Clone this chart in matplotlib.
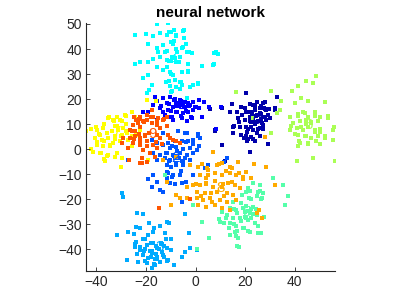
import matplotlib
matplotlib.use("Agg")
import matplotlib.pyplot as plt
import numpy as np

plt.rcParams['font.family'] = ['Liberation Sans', 'DejaVu Sans']

digits = ['0', '1', '2', '3', '4', '5', '6', '7', '8', '9']

# digit 0 (navy)
pts_0 = [(20.5,22.4),(24.6,19),(27.2,18.4),(27.9,19),(23.2,17.7),(25.9,16.4),(28.6,15.7),(32,15.7),
         (32.8,20.7),(19.9,16.4),(21.2,15),(23.9,15.7),(18.9,13.7),(21.9,13),(24.6,13.7),(27.2,13),
         (29.3,13.7),(17.2,12.4),(19.9,11.7),(22.5,11),(25.2,11.3),(26.6,10.4),(28.6,11.7),(15.2,9),
         (17.9,8.7),(20.5,9),(23.2,7.7),(25.9,8.4),(15.2,6.4),(18.5,5.7),(20.8,6.8),(22.5,4.7),
         (24.6,6.4),(20.9,3.1),(23.9,3.1),(21.9,-0.9),(19.6,4.4),(7.8,7.1),(10.5,16.4),(6,16.1),
         (10.5,1.5),(13.8,15),(16.8,15),(27.5,16.4),(29.9,12.4),(27.2,9.7),(26,14.5),(22.8,14.2),
         (24,10),(26.5,12.2),(21.8,18),(23.8,17.3),(26.5,17.3),(27.8,16),(29.8,16),(31.9,16.3),
         (22.4,14.7),(24.4,13.3),(26.5,14),(27.8,12.7),(21.8,11.4),(23.8,10.7),(25.8,11.4),
         (22.4,8.7),(25.1,8),(27.1,8),(21.1,4),(23.1,4),(25.8,5.4),(29.2,2),(14.9,18),(18.3,16.7),
         (20.3,14.7),(15.6,9.4),(17.6,10.7),(21,8),(20.3,5.4),(21,4),(11.9,-4.6),(7.9,7.8)]
# digit 1 (blue)
pts_1 = [(-16.4,21),(-13,20.4),(-10.3,21),(-8.3,20.1),(-6.3,19.7),(-3.6,20.4),(-1.2,19),(1.5,19.7),
         (3.4,19),(-15.7,19.1),(-11.7,18.4),(-9,17),(-5.6,17.7),(-4.3,16.7),(-2.3,17.7),(-0.3,17),
         (1.5,16.4),(-14.4,16.4),(-13,15),(-11,15.7),(-7.7,15),(-4.9,14.4),(-2.9,15),(-0.9,15.7),
         (-19,15),(-17,17.5),(-10.3,13),(-9,11.7),(-5.6,12.4),(-3.6,11.3),(-1.6,12.4),(-6.3,19),
         (-5.2,18.8),(-4.3,19),(-7.7,18.4),(-12.3,13.7),(-21,15),(-15.7,11.7),(-14,17.2),(-6.8,17.2),
         (-3.2,18.5),(-8.5,19.5),(-10.6,18),(-7.9,17.3),(-5.2,18),(-2.6,17.3),(0.1,16.7),(-10,15.3),
         (-7.3,14.7),(-3.9,15.3),(-9.3,12.7),(-5.9,13.3),(-1.9,12.7),(2.8,12.7),(5.5,16.7),(8.2,8),
         (10.2,16.7)]
# digit 2 (medium blue)
pts_2 = [(-7,7.1),(-4.3,6.4),(1.1,6.1),(1.7,4.4),(-0.9,3.7),(-2.9,3.1),(-5.6,3.3),(-8.3,3.1),
         (-11,2.4),(-13,1.7),(-15.7,2.4),(-10.3,0.4),(-7.7,0.7),(-5,0.1),(-2.3,0.4),(0.4,-0.3),
         (-0.9,-1.6),(-3.6,-2.3),(-6.3,-1.6),(-9,-2.3),(-11.7,-1.6),(-14.4,-2.3),(-17,-1.6),
         (-15.7,-4.3),(-12.3,-3.6),(-10.3,-4.3),(-8.3,-3.6),(-7.4,-2.5),(-5.6,-4.7),(-4.3,-3.3),
         (-2.3,-4.3),(-11.7,-6.3),(-9.7,-6.9),(-7.7,-6.3),(-5,-6.3),(-11,-9.6),(-9,-10.3),
         (-6.3,-10.3),(-17.3,-10.3),(-19,-11.9),(-15.7,-12.9),(-11.7,-11.6),(-10.3,-13.6),
         (-8.3,-14),(-5.6,-13.6),(-14.4,-16.3),(-13,-16.9),(-17.7,-14.9),(-5.6,-20.9),(12.5,-3.6),
         (11.4,-4.9),(-3.6,6.4),(-13.3,6.4),(-27.1,-4.3),(-17.7,3.7),(5.1,-6.3),(3.8,-7.6),
         (-9.3,1.4),(-7.3,-0.7),(-8.6,-2.7),(-6.6,-3.4),(-10.6,-4.7),(-7.9,-5.3),(-5.2,-4.7),
         (-3.9,2.7),(-1.2,2),(0.8,5.4),(1.5,1.4),(-11.3,-9.2),(-9.3,-11.2),(-5.9,-8.6),(-1.2,-10.3),
         (-3.9,-13.2),(-12,-1.3)]
# digit 3 (sky blue)
pts_3 = [(-23.5,-25.3),(-21,-25.7),(-29.8,-17.3),(-29.1,-18.9),(-31.5,-34.3),(-27.1,-33.2),
         (-24,-30.9),(-22.4,-31.6),(-18.7,-29.3),(-16.8,-31.6),(-14.4,-30.5),(-12.3,-33.3),
         (-10.6,-29.6),(-9.7,-35.9),(-19.1,-34.3),(-21,-35.9),(-23.8,-36.9),(-24.4,-38.9),
         (-22.4,-40.3),(-19.7,-38.3),(-17,-37.6),(-15.7,-39.6),(-13.7,-38),(-11.7,-39.6),
         (-9.7,-40.3),(-21,-42.3),(-19,-43.6),(-17.7,-41.6),(-15.7,-42.9),(-13,-42.3),(-11,-44.3),
         (-14.4,-44.9),(-16.4,-46.3),(-17.7,-47.6),(-19.7,-45.6),(-23,-44.9),(-27.8,-44.3),
         (-26.1,-49.6),(-8.7,-46.3),(-5.6,-42.9),(-4.3,-40.9),(-2.3,-39.6),(-2.6,-33.6),(0.4,-40.3),
         (-4.3,-26),(-11.7,-28.9),(-17,-33),(-18.2,-40.5),(-16.5,-44),(-20.5,-40),
         (-18.1,-37.3),(-16.1,-38.6),(-14.1,-37.3),(-12.8,-38.6),(-14.8,-39.9),(-17.5,-40.6),
         (-16.1,-41.9),(-13.5,-41.2),(-18.1,-43.2),(-15.5,-43.9),(-12.8,-43.2),(-20.8,-40.6),
         (-23.5,-41.9),(-24.2,-37.9),(-22.2,-39.2),(-20.2,-44.6),(-11.5,-44.6),(-16.9,-45.9),
         (-24.9,-33.9),(-20.2,-35.9),(-12.1,-35.9)]
# digit 4 (cyan)
pts_4 = [(-15.7,50),(-11,50.3),(-24.2,45.6),(-20,45.9),(-17,45.3),(-14.4,46.4),(-11.7,45.7),
         (-9.7,47),(-7.7,45.7),(-5,47.3),(-4.6,44.4),(-19,42),(-15.7,40.4),(-13,41.7),(-9.7,42.8),
         (-9,42),(-7.9,40),(-5.6,40.4),(-3.6,39),(-1.6,38.4),(-15,39),(-12.3,39),(7.4,38.4),
         (9.1,38.1),(7.1,33.7),(-24.4,34),(-22.4,34.8),(-19,35),(-17,36.1),(-14.4,36.7),
         (-11.7,35.7),(-9.7,35.3),(-8.3,36.4),(-7.7,34.7),(-6.3,37),(-15.7,33),(-13,31.7),
         (-11.7,33),(-10.3,31),(-5.6,30.7),(-2.9,31),(-21,28.4),(-19,29.5),(-9,29.5),(-8.3,27.7),
         (-6.3,27),(-12,27),(-10.3,25.3),(-5.6,25.7),(-0.9,25.7),(1.1,26),(-19.7,22.4),(-10,23),
         (-6.3,24),(-2.3,24.7),(-18.7,23.6),(-17.6,25.7),(-3.4,20.4),(-8.6,47.6),(-4.6,47.6),
         (-10.6,46.7),(-7.9,45.3),(-9.9,42.7),(-8.6,43.3),(-5.2,40.7),(-3.9,42),(-11.3,39.4),
         (-7.3,38.7),(-2.6,38.7),(-9.3,36.7),(-6.6,34.7),(-10.6,35.4),(-3.2,34.1),(2.8,33.4),
         (7.5,34.1),(8.2,38.7),(-10,30.1),(-3.2,31.4),(-5.9,26.7),(0.8,26.3),(-10.6,27.4),
         (-7.9,24.7),(-9.3,23.4)]
# digit 5 (spring green)
pts_5 = [(21.2,-15.6),(23.2,-13.6),(25.2,-16.9),(27.2,-17.6),(18.9,-18.3),(21.6,-19.6),
         (24.6,-18.6),(26.6,-19.6),(15.2,-20.9),(18.5,-21.3),(20.5,-22.5),(23.2,-22.9),
         (13.8,-23.6),(16.5,-24.3),(19.9,-24.9),(21.9,-25.6),(24.6,-26.3),(27.5,-26.9),
         (10.5,-24.9),(12.5,-26.3),(15.2,-27.3),(17.9,-27.6),(21.2,-28.3),(23.9,-29.6),
         (9.8,-28.9),(13.8,-29.6),(16.5,-30.5),(19.1,-31.6),(21.9,-32.9),(25.2,-33.6),
         (15.8,-32.9),(17.2,-35.6),(17.4,-38.9),(13.8,-34.3),(2.7,-28.9),(5.5,-35.3),(-0.9,-22.3),
         (36,-22.3),(35.4,-14.3),(37.3,-18.5),(31.3,-11.6),(-12.3,-10.3),(0.4,-39.9),(25.9,-14.3),
         (20.5,-16.9),(22.5,-24),(20,-27),(15.6,-24),(16.9,-25.3),(19,-23.3),(21,-24.7),
         (20.3,-27.3),(18.3,-28.6),(15.6,-30),(12.2,-27.3),(13.5,-31.3),(16.9,-32.6),(19.6,-31.3),
         (11.5,-29.3),(9.5,-28),(16.2,-34.6),(16.9,-38.6),(21.8,-16.7),(25.8,-16.7),(22.4,-20),
         (26.5,-20),(21.8,-24.7),(23.1,-26),(24.4,-24),(22.4,-27.3),(25.3,-30.6),(21.1,-32.6),
         (26.2,-33.3)]
# digit 6 (yellow-green)
pts_6 = [(16.5,22.8),(30.6,23.3),(38.7,23.1),(44.7,27.3),(48.5,29.1),(47.4,26.4),(41.3,25.1),
         (42.7,20.4),(45.4,19.1),(52.3,18.7),(40.1,18.4),(34,15.7),(32.8,14.4),(38,13),(41.3,14),
         (44,14.4),(48.1,15),(50.1,13),(53.4,12.4),(39.4,10.4),(42,11.1),(44.7,11.7),(46.7,10.4),
         (49.4,11.1),(38,7.7),(40.7,8.4),(43.4,7.7),(45.4,8.7),(48.1,7.7),(50.1,6.8),(55.4,7.7),
         (41.3,5.7),(44,5.1),(46.7,4.4),(49.4,5.1),(52.1,4.4),(42,2.4),(45.4,2.4),(48.7,3.1),
         (55.4,3.7),(40.7,-4.7),(47.4,-3.6),(56.1,-4.7),(34.6,19.1),(30.6,6.4),(23.2,12.4),
         (41.3,13.3),(43.3,14.7),(45.3,12.7),(46.6,10.7),(44.6,10),(42.6,8.7),(38.5,9.4),(39.9,6),
         (44.6,5.4),(48,6.7),(50,8),(52,5.4),(41.9,3.4),(45.3,2),(50,2),(41.3,1.4),(48,13.3),
         (53.3,13.3),(56,8.7)]
# digit 7 (yellow)
pts_7 = [(-44.2,7.1),(-39.9,7.7),(-37.2,8.4),(-35.2,12.4),(-33.2,11.7),(-31.8,13),(-30.5,11.7),
         (-28.5,13.7),(-25.8,15),(-24.4,13),(-38.5,5.7),(-35.8,6.4),(-33.8,7.1),(-32.5,9.1),
         (-31.1,7.7),(-29.1,8.4),(-27.8,6.4),(-29.8,5.7),(-32.5,5.1),(-35.2,4.4),(-37.9,3.7),
         (-40.6,4.4),(-39.9,1.7),(-37.2,1.1),(-34.5,1.7),(-41.2,-0.9),(-38.5,-1.6),(-35.2,-2.3),
         (-32.5,-2.9),(-29.8,-3.6),(-36.5,-4.7),(-30.2,-6.9),(-27.1,3.7),(-25.8,5.1),(-30.5,3.1),
         (-33.2,2.4),(-25.8,1.1),(-23.8,5.7),(-22.4,7.7),(-19,-4.3),(-16,19.1),(-19.7,19.7),
         (-28.1,10),(-42.3,8),(-40.3,8.7),(-39,6),(-37,10),(-35,12.7),(-32.9,11.4),(-31.6,9.4),
         (-29.6,11.4),(-28.2,13.3),(-39.7,2.7),(-37,3.4),(-34.3,1.4),(-32.3,4),(-30.2,5.4),
         (-28.2,7.4),(-42.3,0),(-38.3,-1.3),(-35.6,-2.6),(-31.6,-1.3),(-37,-3.9)]
# digit 8 (orange)
pts_8 = [(-2.3,-6.3),(1.1,-6.9),(5.1,-8.3),(8.5,-6.3),(10.5,-5.6),(13.8,-6.9),(17.2,-4.9),
         (20.5,-8.9),(23.5,-5.9),(28.6,-6.9),(1.7,-10.3),(5.1,-10.3),(7.8,-9.6),(10.5,-10.3),
         (13.8,-9.6),(16.5,-10.3),(19.1,-10.9),(22.5,-11.6),(-0.9,-14.3),(1.7,-14.3),(4.4,-13.6),
         (7.1,-14.9),(10.5,-14.9),(13.2,-13.6),(15.8,-14.3),(17.8,-15.6),(-3.6,-14.9),(0.4,-16.9),
         (3.8,-17.6),(6.4,-17.6),(8.5,-16.9),(12.5,-17.6),(15.2,-18.3),(-3.6,-19.6),(0.4,-19.6),
         (3.1,-20.3),(5.8,-19.6),(9.8,-20.3),(12.5,-20.9),(16.5,-20.3),(1.1,-22.3),(4.4,-22.9),
         (7.8,-22.3),(10.5,-23.6),(13.8,-24.3),(-9.7,-22.3),(-7.7,-18.3),(-6.3,-19.6),(26.9,-27.3),
         (24.9,-25.6),(25.5,-24.3),(31.9,-14.3),(27.9,4.7),(-7.7,-2.9),(-13,-4.3),(4.4,-11.6),
         (6.9,-1),(2.8,-6),(4.8,-7.3),(9.5,-6),(12.2,-8.6),(14.9,-7.3),(17.6,-9.3),(19,-11.9),
         (0.1,-13.9),(4.2,-13.9),(10.9,-13.9),(14.9,-13.2),(-11.3,-13.2),(8,-12.5),(11.5,-18.8),
         (6.5,-21),(2.2,-18.5)]
# digit 9 (orange-red)
pts_9 = [(-17.7,15.7),(-19.7,13.7),(-22.4,13),(-21,11.1),(-23,10.4),(-25.1,9.7),(-26.4,7.7),
         (-24.4,7.1),(-22.4,8.7),(-19.7,11.7),(-17,13),(-15,12.4),(-13,11.7),(-11.7,13),
         (-15.7,9.7),(-14.4,8.4),(-11.7,9.1),(-26.4,4.4),(-24.4,5.1),(-22.4,4.4),(-20.3,5.7),
         (-18.7,6.4),(-15.7,5.7),(-14.4,4.4),(-11,5.7),(-25.1,2.4),(-22.4,1.7),(-19.7,3.1),
         (-17,1.7),(-15.7,0.4),(-21,-0.3),(-18.4,-1.6),(-21.7,-3.6),(-19.7,-4.9),(-22.4,-5.6),
         (-16.4,-2.9),(-27.1,0.4),(-29.8,2.4),(-29.1,4.4),(-10.3,4.4),(-9,3.7),(-7.7,3.1),
         (-6.3,2.4),(-26.7,-4.4),(-14.6,-23.6),(-2.3,-19.9),(-23.8,11.7),(-17.7,10.4),
         (-24.9,12.7),(-22.9,12),(-20.8,10.7),(-18.1,12.7),(-15.5,11.4),(-12.8,12),(-25.6,7.4),
         (-22.9,6),(-20.2,5.4),(-24.9,4),(-22.2,2.7),(-19.5,1.4),(-16.1,2.7),(-13.5,2),(-21.5,-5.3)]

label_x = [24.5, -5.3, -7.9, -14.6, -9.0, 20.5, 45.4, -32.0, 10.3, -17.3]
label_y = [11.5, 17.5, -3.6, -39.0, 35.7, -25.0, 9.7, 7.0, -15.3, 6.0]

colors = [(0, 0, 2/3), (0, 0, 1), (0, 1/3, 1), (0, 2/3, 1), (0, 1, 1),
          (1/3, 1, 2/3), (2/3, 1, 1/3), (1, 1, 0), (1, 2/3, 0), (1, 1/3, 0)]

all_pts = [pts_0, pts_1, pts_2, pts_3, pts_4, pts_5, pts_6, pts_7, pts_8, pts_9]

fig = plt.figure(figsize=(4.07, 3.05), dpi=100)
ax = fig.add_axes([0.211, 0.1115, 0.612, 0.8131])

for d, pts, c, lx, ly in zip(digits, all_pts, colors, label_x, label_y):
    arr = np.array(pts)
    ax.scatter(arr[:, 0], arr[:, 1], s=5, color=c, marker='s', linewidths=0)
    ax.text(lx, ly, d, color=c, fontsize=11, ha='center', va='center', zorder=5)

ax.set_xlim(-44.2, 56.2)
ax.set_ylim(-48.6, 50.4)
ax.set_xticks([-40, -20, 0, 20, 40])
ax.set_yticks([-40, -30, -20, -10, 0, 10, 20, 30, 40, 50])
for s in ['top', 'right']:
    ax.spines[s].set_visible(False)
for s in ['left', 'bottom']:
    ax.spines[s].set_color('#262626')
    ax.spines[s].set_linewidth(0.8)
ax.tick_params(direction='in', length=3, width=0.6, colors='#262626', labelsize=10, pad=3)
ax.set_title('neural network', fontsize=11, fontweight='bold', pad=4)

fig.savefig('out.png', dpi=100)
